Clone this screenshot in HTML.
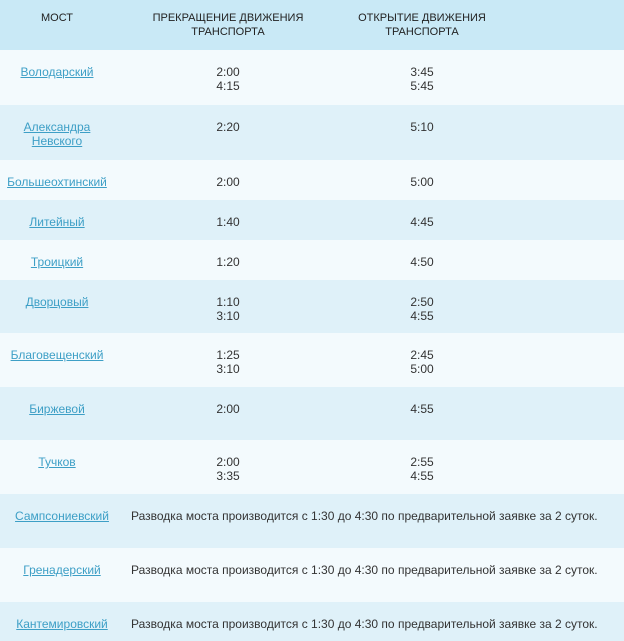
<!DOCTYPE html>
<html><head><meta charset="utf-8"><style>
body{margin:0;width:624px;height:641px;overflow:hidden;background:#f3fafd;font-family:"Liberation Sans",sans-serif;font-size:12px;color:#333;}
.r{position:absolute;left:0;width:624px;}
.c{position:absolute;text-align:center;line-height:14px;}
a{color:#3d9fc6;text-decoration:underline;}
.h{font-size:11px;color:#222;text-transform:uppercase;}
</style></head><body>
<div class="r" style="top:0;height:50px;background:#c9e9f6">
<div class="c h" style="left:0;width:114px;top:11px">МОСТ</div>
<div class="c h" style="left:128px;width:200px;top:11px">ПРЕКРАЩЕНИЕ ДВИЖЕНИЯ<br>ТРАНСПОРТА</div>
<div class="c h" style="left:322px;width:200px;top:11px">ОТКРЫТИЕ ДВИЖЕНИЯ<br>ТРАНСПОРТА</div>
</div>
<div id="rows"></div>
<script>
const names=["Володарский","Александра<br>Невского","Большеохтинский","Литейный","Троицкий","Дворцовый","Благовещенский","Биржевой","Тучков","Сампсониевский","Гренадерский","Кантемировский"];
const closeT=["2:00<br>4:15","2:20","2:00","1:40","1:20","1:10<br>3:10","1:25<br>3:10","2:00","2:00<br>3:35","","",""];
const openT=["3:45<br>5:45","5:10","5:00","4:45","4:50","2:50<br>4:55","2:45<br>5:00","4:55","2:55<br>4:55","","",""];
const tops=[50,105,160,200,240,280,333,387,440,494,548,602,641];
const note="Разводка моста производится с 1:30 до 4:30 по предварительной заявке за 2 суток.";
const host=document.getElementById('rows');
names.forEach((n,i)=>{
 const r=document.createElement('div');
 r.className='r';
 
 
 r.style.top=tops[i]+'px';r.style.height=(tops[i+1]-tops[i])+'px';
 r.style.background=i%2?'#dff1f9':'#f3fafd';
 const special=!closeT[i];
 let h='<div class="c" style="left:0;width:'+(special?124:114)+'px;top:15px"><a>'+n+'</a></div>';
 if(special){h+='<div class="c" style="left:131px;top:15px;text-align:left;white-space:nowrap">'+note+'</div>';}
 else{h+='<div class="c" style="left:178px;width:100px;top:15px">'+closeT[i]+'</div><div class="c" style="left:372px;width:100px;top:15px">'+openT[i]+'</div>';}
 r.innerHTML=h;host.appendChild(r);
});
</script>
</body></html>
